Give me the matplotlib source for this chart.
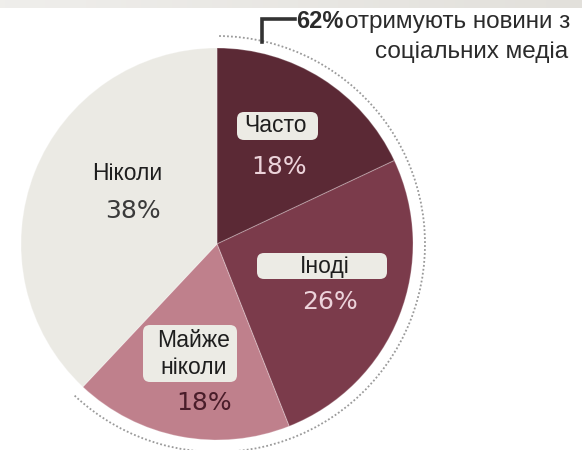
import matplotlib
matplotlib.use("Agg")
import matplotlib.pyplot as plt
import numpy as np
from matplotlib.patches import Arc, FancyBboxPatch

# Share of adults by how often they get news from social media
categories = ["Часто", "Іноді", "Майже\nніколи", "Ніколи"]
values = [18, 26, 18, 38]
slice_colors = ["#5b2935", "#7b3b4b", "#bf808c", "#ebeae4"]
pct_colors = ["#ecd3da", "#ecd3da", "#4a1d2a", "#3a3a3a"]
headline_value = 62
headline_text = "отримують новини з\nсоціальних медіа"

W, H = 582, 450
plt.rcParams["font.family"] = ["Liberation Sans", "DejaVu Sans"]

fig = plt.figure(figsize=(W / 100, H / 100), dpi=100)
ax = fig.add_axes([0, 0, 1, 1])

# thin shaded strip along the top edge
grad = np.linspace(0.0, 1.0, 256)[None, :]
strip = np.zeros((1, 256, 4))
strip[..., 0] = 0.89
strip[..., 1] = 0.88
strip[..., 2] = 0.86
strip[..., 3] = 0.55 + 0.45 * grad
ax.imshow(strip, extent=(0, W, H - 8, H), aspect="auto", zorder=0)

cx, cy, r = 217, H - 244, 196

wedges, _ = ax.pie(
    values,
    colors=slice_colors,
    startangle=90,
    counterclock=False,
    center=(cx, cy),
    radius=r,
    wedgeprops=dict(linewidth=0.8, edgecolor=(1, 1, 1, 0.25)),
    frame=True,
)
ax.set_xlim(0, W)
ax.set_ylim(0, H)
ax.set_aspect("equal")
ax.axis("off")

# dotted arc spanning everyone who uses social media for news
share = sum(values[:3]) / sum(values)
arc = Arc((cx, cy), 2 * 208, 2 * 208, theta1=90 - 360 * share, theta2=90,
          color="#9a9a9a", lw=1.3, linestyle=(0, (1, 1.2)), zorder=3)
ax.add_patch(arc)

# bracket leading to the headline figure
ax.plot([262, 262, 295], [H - 42, H - 19, H - 19], color="#333333", lw=2.6,
        solid_joinstyle="miter", zorder=4)
ax.text(296, H - 21, f"{headline_value}%", fontsize=17, fontweight="bold",
        color="#2b2b2b", ha="left", va="center", zorder=4)
line1, line2 = headline_text.split("\n")
ax.text(345, H - 22, line1, fontsize=17.5, color="#2b2b2b", ha="left",
        va="center", zorder=4)
ax.text(472, H - 52, line2, fontsize=17.5, color="#2b2b2b", ha="center",
        va="center", zorder=4)

# label placement: (name x, name y, box x0, y0, x1, y1, pct x, pct y)
layout = [
    (276, 126, 237, 112, 318, 140, 279, 167),
    (325, 267, 257, 253, 387, 279, 330, 302),
    (194, 354, 143, 325, 237, 382, 204, 403),
    (127, 174, None, None, None, None, 133, 211),
]

for name, val, pc, lay in zip(categories, values, pct_colors, layout):
    tx, ty, bx0, by0, bx1, by1, px, py = lay
    if bx0 is not None:
        box = FancyBboxPatch((bx0, H - by1), bx1 - bx0, by1 - by0,
                             boxstyle="round,pad=0,rounding_size=7",
                             fc="#ecebe5", ec="none", zorder=4)
        ax.add_patch(box)
    ax.text(tx, H - ty, name, fontsize=16.5, color="#1e1e1e", ha="center",
            va="center", linespacing=1.2, zorder=5)
    ax.text(px, H - py, f"{val}%", fontsize=18, color=pc, ha="center",
            va="center", family="DejaVu Sans", zorder=5)

fig.savefig("out.png", dpi=100)
